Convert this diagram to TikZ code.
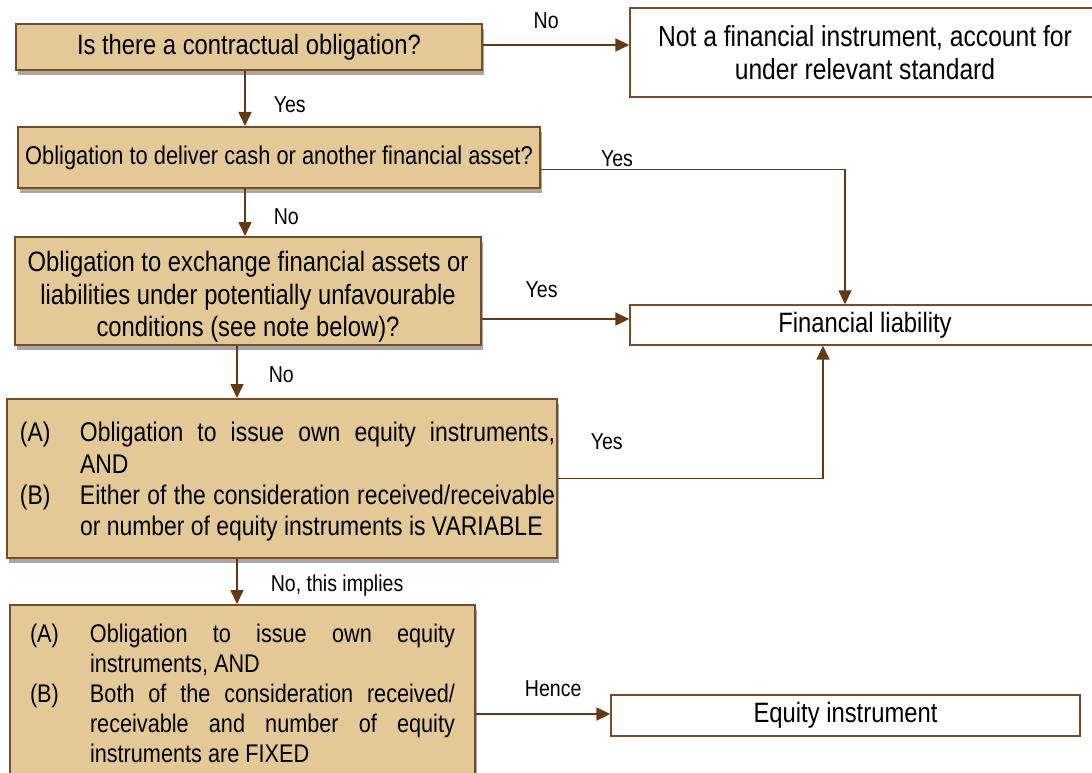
\documentclass[tikz,border=0pt]{standalone}
\usepackage{fontspec}
\setmainfont[FakeStretch=0.85]{Liberation Sans}
\usetikzlibrary{arrows.meta,shadows}
\definecolor{qtan}{RGB}{227,200,152}
\definecolor{qedge}{RGB}{117,76,41}
\definecolor{qflow}{RGB}{99,57,23}
\definecolor{qshade}{RGB}{168,168,168}
\hbadness=10000

\begin{document}
\begin{tikzpicture}[x=1pt,y=-1pt,
    qbox/.style={draw=qedge,line width=2pt,fill=qtan,inner sep=2pt,align=center,
      drop shadow={shadow xshift=2pt,shadow yshift=-5pt,fill=qshade,opacity=1}},
    abox/.style={draw=qedge,line width=1.4pt,fill=white,inner sep=2pt,align=center},
    flow/.style={qflow,line width=1.6pt,-{Triangle[length=14pt,width=13pt]}},
    lbl/.style={font=\fontsize{23}{26}\selectfont,inner sep=0pt,text=black}]
      \useasboundingbox (0,0) rectangle (1092,773);
      \node[qbox,minimum width=466pt,minimum height=46pt,font=\fontsize{28}{32}\selectfont] (qa) at (249,47) {Is there a contractual obligation?};
      \node[qbox,minimum width=522pt,minimum height=61pt,font=\fontsize{25.7}{30}\selectfont] (qb) at (279,157.5) {Obligation to deliver cash or another financial asset?};
      \node[qbox,minimum width=466pt,minimum height=108pt,font=\fontsize{28}{32.5}\selectfont] (qc) at (248,291) {\rule{0pt}{32pt}Obligation to exchange financial assets or\\ liabilities under potentially unfavourable\\ conditions (see note below)?};
      \node[qbox,minimum width=550pt,minimum height=159pt,text width=546pt,align=justify,font=\fontsize{27}{31.3}\selectfont] (qd) at (282,478.5) {\leftskip=11pt\rightskip=0pt\parfillskip=0pt plus 1fil
        \hangindent=60pt\hangafter=1\noindent\rule{0pt}{26pt}\makebox[60pt][l]{(A)}Obligation to issue own equity instruments,\linebreak AND\par
        \hangindent=60pt\hangafter=1\noindent\makebox[60pt][l]{(B)}Either of the consideration received/receivable\linebreak or number of equity instruments is VARIABLE\par};
      \node[qbox,minimum width=465pt,minimum height=176pt,text width=461pt,align=justify,font=\fontsize{25.5}{30}\selectfont] (qe) at (242.5,693) {\leftskip=18pt\rightskip=18pt\parfillskip=0pt plus 1fil
        \hangindent=60pt\hangafter=1\noindent\makebox[60pt][l]{(A)}Obligation to issue own equity\linebreak instruments, AND\par
        \hangindent=60pt\hangafter=1\noindent\makebox[60pt][l]{(B)}Both of the consideration received/\linebreak receivable and number of equity\linebreak instruments are FIXED\par};
      \node[abox,minimum width=470pt,minimum height=89pt,font=\fontsize{29}{33}\selectfont] (ra) at (865,52.5) {Not a financial instrument, account for\\ under relevant standard};
      \node[abox,minimum width=470pt,minimum height=40pt,font=\fontsize{28}{32}\selectfont] (rb) at (865,325) {Financial liability};
      \node[abox,minimum width=469pt,minimum height=41pt,font=\fontsize{28}{32}\selectfont] (rc) at (845.5,715.5) {Equity instrument};
      \draw[flow] ([yshift=2pt]qa.east) -- node[lbl,midway,above=15pt,xshift=-10pt]{No} ([yshift=2pt]qa.east -| ra.west);
      \draw[flow] ([xshift=-4pt]qa.south) -- node[lbl,midway,right=28pt,yshift=-6pt]{Yes} ([xshift=-4pt]qa.south |- qb.north);
      \draw[flow] ([yshift=-12pt]qb.east) -| node[lbl,pos=0.125,above=2pt]{Yes} ([xshift=-20pt]rb.north);
      \draw[flow] ([xshift=-4pt]qb.south -| qa.south) -- node[lbl,midway,right=28pt,yshift=-4pt]{No} ([xshift=-4pt]qa.south |- qc.north);
      \draw[flow] ([yshift=-28pt]qc.east) -- node[lbl,midway,above=20pt,xshift=-14pt]{Yes} ([yshift=-28pt]qc.east -| rb.west);
      \draw[flow] ([xshift=-11pt]qc.south) -- node[lbl,midway,right=31pt,yshift=-3pt]{No} ([xshift=-11pt]qc.south |- qd.north);
      \draw[flow] (qd.east) -| node[lbl,pos=0.092,above=28pt]{Yes} ([xshift=-42pt]rb.south);
      \draw[flow] ([xshift=-45pt]qd.south) -- node[lbl,midway,right=33pt,yshift=-4pt]{No, this implies} ([xshift=-45pt]qd.south |- qe.north);
      \draw[flow] ([yshift=-21pt]qe.east) -- node[lbl,midway,above=16pt,xshift=10pt]{Hence} ([yshift=-21pt]qe.east -| rc.west);
    \end{tikzpicture}
\end{document}
